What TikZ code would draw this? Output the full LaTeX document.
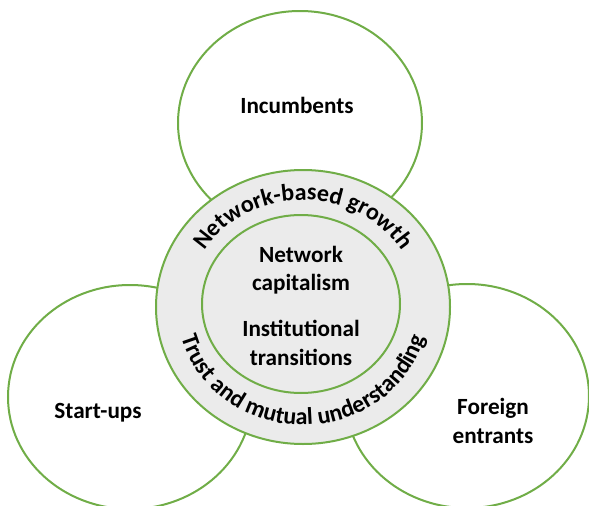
\documentclass[tikz,border=0pt]{standalone}
\usepackage{fontspec}
\setmainfont{Carlito}
\usepackage{tikz}
\usetikzlibrary{shapes.geometric}
\usetikzlibrary{decorations.text}
\definecolor{ringgreen}{HTML}{70AD47}
\definecolor{ringgray}{HTML}{EBEBEB}
\tikzset{ actor_circ/.style = {ellipse, draw=ringgreen, line width=1pt, fill=white, inner sep=0pt, minimum width=122pt, minimum height=112pt} }
\tikzset{ label_txt/.style = {align=center, font=\bfseries\fontsize{11.6}{14.2}\selectfont} }

\begin{document}
\begin{tikzpicture}[x=0.5pt, y=0.5pt]
                \clip (0, 0) rectangle (589, 505);
                \node [actor_circ] (inc) at (300, 382) {};
                \node [actor_circ] (start) at (130, 108) {};
                \node [actor_circ] (foreign) at (467, 109) {};
                \node [actor_circ, fill=ringgray, minimum width=147pt, minimum height=137pt] (ring) at (303, 198) {};
                \node [actor_circ, fill=ringgray, minimum width=99pt, minimum height=89pt] (core) at (301, 201) {};
                \node [label_txt] (inc_txt) at (297, 400) {Incumbents};
                \node [label_txt] (start_txt) at (98, 92) {Start-ups};
                \node [label_txt] (foreign_txt) at (493, 84) {Foreign\\entrants};
                \node [label_txt] (cap_txt) at (301, 235) {Network\\capitalism};
                \node [label_txt] (inst_txt) at (301, 162) {Institutional\\transitions};
                \path [decorate, decoration={text along path, text align=center,
                        text={|\bfseries\fontsize{12}{14}\selectfont|Network-based growth}}]
                        (ring.center) ++(180:116 and 107) arc [start angle=180, end angle=0, x radius=116, y radius=107];
                \path [decorate, decoration={text along path, text align=center,
                        text={|\bfseries\fontsize{12}{14}\selectfont|Trust and mutual understanding}}]
                        (ring.center) ++(180:126 and 118) arc [start angle=180, end angle=360, x radius=126, y radius=118];
        \end{tikzpicture}
\end{document}
